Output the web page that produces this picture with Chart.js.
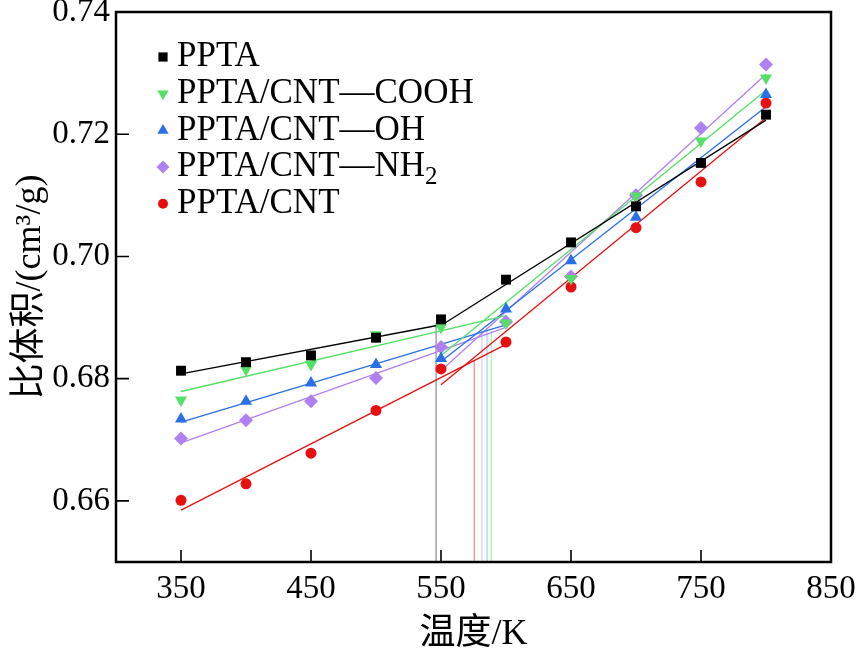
<!DOCTYPE html>
<html lang="zh">
<head>
  <meta charset="UTF-8">
  <title>比体积-温度</title>
  <script src="https://cdn.jsdelivr.net/npm/chart.js"></script>
  <style>
    html, body { margin: 0; padding: 0; background: #fff; }
  </style>
</head>
<body>
  <canvas id="myChart" width="863" height="656"></canvas>

  <script>
    // measured points
    const temps = [350, 400, 450, 500, 550, 600, 650, 700, 750, 800];
    const ppta     = [0.6813, 0.6827, 0.6838, 0.6867, 0.6897, 0.6962, 0.7023, 0.7082, 0.7153, 0.7232];
    const pptaCooh = [0.6765, 0.6815, 0.6823, 0.6872, 0.6884, 0.6891, 0.6964, 0.7099, 0.7189, 0.7292];
    const pptaOh   = [0.6734, 0.6763, 0.6793, 0.6823, 0.6833, 0.6914, 0.6993, 0.7064, 0.7152, 0.7265];
    const pptaNh2  = [0.6702, 0.6732, 0.6763, 0.6801, 0.6852, 0.6893, 0.6967, 0.7100, 0.7210, 0.7314];
    const pptaCnt  = [0.6601, 0.6628, 0.6678, 0.6748, 0.6816, 0.6860, 0.6950, 0.7047, 0.7122, 0.7251];

    // series order: PPTA, COOH, OH, NH2, CNT
    const seriesNames = ['PPTA', 'PPTA/CNT—COOH', 'PPTA/CNT—OH', 'PPTA/CNT—NH_2', 'PPTA/CNT'];

    // fitted lines (below and above the transition)
    const lowFitT0 = [350, 350, 350, 350, 350];
    const lowFitT1 = [547, 600, 600, 600, 600];
    const lowFitV0 = [0.6808, 0.6779, 0.6729, 0.6695, 0.6585];
    const lowFitV1 = [0.6887, 0.6903, 0.6888, 0.6884, 0.6856];
    const highFitT0 = [550, 550, 550, 550, 550];
    const highFitT1 = [800, 800, 800, 800, 800];
    const highFitV0 = [0.6887, 0.6838, 0.6828, 0.6813, 0.6790];
    const highFitV1 = [0.7223, 0.7272, 0.7245, 0.7298, 0.7227];

    // transition temperatures (vertical drop lines)
    const transT   = [546.2, 588.7, 585.4, 581.5, 575.6];
    const transTop = [0.6887, 0.6878, 0.6878, 0.6878, 0.6829];

    const xTicks = [350, 450, 550, 650, 750, 850];
    const yTicks = [0.66, 0.68, 0.70, 0.72, 0.74];

    const colors    = ['#000000', '#52e065', '#2a6ee8', '#b07ff0', '#e61010'];
    const dropColor = ['#8a8a8a', '#b3ecb6', '#9fd4f2', '#dccbf7', '#f58a8a'];
    const styles    = ['rect', 'triangle', 'triangle', 'rectRot', 'circle'];
    const rotations = [0, 180, 0, 0, 0];
    const radii     = [7, 7, 7, 7, 5.5];

    const FONT = "'Liberation Serif', 'Noto Sans CJK SC', serif";
    const allSeries = [ppta, pptaCooh, pptaOh, pptaNh2, pptaCnt];

    const datasets = [];
    allSeries.forEach((vals, i) => {
      datasets.push({
        label: seriesNames[i],
        data: temps.map((t, k) => ({ x: t, y: vals[k] })),
        showLine: false,
        pointStyle: styles[i],
        rotation: rotations[i],
        radius: radii[i],
        backgroundColor: colors[i],
        borderWidth: 0,
        order: 0
      });
    });
    allSeries.forEach((vals, i) => {
      const lineStyle = { showLine: true, pointRadius: 0, borderColor: colors[i], borderWidth: 1.3, order: 1 };
      datasets.push(Object.assign({
        data: [{ x: lowFitT0[i], y: lowFitV0[i] }, { x: lowFitT1[i], y: lowFitV1[i] }]
      }, lineStyle));
      datasets.push(Object.assign({
        data: [{ x: highFitT0[i], y: highFitV0[i] }, { x: highFitT1[i], y: highFitV1[i] }]
      }, lineStyle));
      datasets.push({
        data: [{ x: transT[i], y: transTop[i] }, { x: transT[i], y: 0.65 }],
        showLine: true, pointRadius: 0, borderColor: dropColor[i], borderWidth: 1.2, order: 2
      });
    });

    // box frame, inward ticks, legend inside the plot
    const framePlugin = {
      id: 'frame',
      afterDraw(chart) {
        const { ctx, chartArea: { left, right, top, bottom }, scales: { x, y } } = chart;
        ctx.save();
        ctx.strokeStyle = '#000';
        ctx.lineWidth = 2.5;
        ctx.strokeRect(left, top, right - left, bottom - top);
        ctx.lineWidth = 1.6;
        ctx.beginPath();
        x.ticks.forEach(t => {
          const px = x.getPixelForValue(t.value);
          ctx.moveTo(px, bottom);
          ctx.lineTo(px, bottom - 12);
        });
        y.ticks.forEach(t => {
          const py = y.getPixelForValue(t.value);
          ctx.moveTo(left, py);
          ctx.lineTo(left + 13, py);
        });
        ctx.stroke();

        // legend
        ctx.textBaseline = 'middle';
        seriesNames.forEach((name, i) => {
          const rowY = top + 45 + i * 36.7;
          ctx.fillStyle = colors[i];
          Chart.helpers.drawPoint(ctx, {
            pointStyle: styles[i], rotation: rotations[i], radius: radii[i] - 0.5, borderWidth: 0
          }, left + 47, rowY);
          ctx.fillStyle = '#000';
          const parts = name.split('_');
          ctx.font = '35px ' + FONT;
          ctx.fillText(parts[0], left + 61, rowY);
          if (parts[1]) {
            const w = ctx.measureText(parts[0]).width;
            ctx.font = '25px ' + FONT;
            ctx.fillText(parts[1], left + 61 + w, rowY + 10);
          }
        });
        ctx.restore();
      }
    };

    const ctx = document.getElementById('myChart').getContext('2d');
    const myChart = new Chart(ctx, {
      type: 'scatter',
      data: { datasets: datasets },
      options: {
        responsive: false,
        animation: false,
        layout: { padding: { top: 12, right: 32, left: 0, bottom: 0 } },
        plugins: { legend: { display: false }, tooltip: { enabled: false } },
        scales: {
          x: {
            type: 'linear',
            min: 300,
            max: 850,
            afterBuildTicks: scale => { scale.ticks = xTicks.map(v => ({ value: v })); },
            afterFit: scale => { scale.height = 94; scale.paddingLeft = 0; scale.paddingRight = 0; },
            grid: { display: false, drawTicks: false },
            border: { display: false },
            ticks: { padding: 8, color: '#000', font: { family: FONT, size: 33 } },
            title: {
              display: true,
              text: '温度/K',
              color: '#000',
              font: { family: FONT, size: 36 },
              padding: { top: 0, bottom: 0 }
            }
          },
          y: {
            type: 'linear',
            min: 0.65,
            max: 0.74,
            afterBuildTicks: scale => { scale.ticks = yTicks.map(v => ({ value: v })); },
            afterFit: scale => { scale.width = 116; scale.paddingTop = 0; scale.paddingBottom = 0; },
            grid: { display: false, drawTicks: false },
            border: { display: false },
            ticks: {
              padding: 6,
              color: '#000',
              font: { family: FONT, size: 33 },
              callback: v => v.toFixed(2)
            },
            title: {
              display: true,
              text: '比体积/(cm³/g)',
              color: '#000',
              font: { family: FONT, size: 36 },
              padding: { top: 9, bottom: 0 }
            }
          }
        }
      },
      plugins: [framePlugin]
    });
  </script>
</body>
</html>
